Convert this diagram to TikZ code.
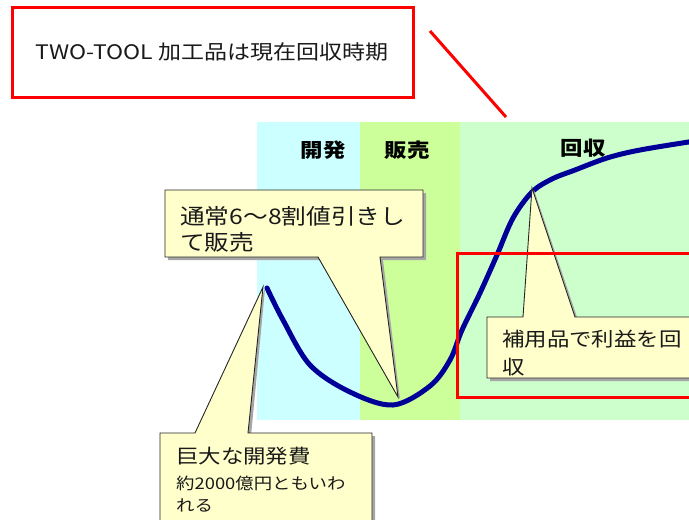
\documentclass[tikz,border=0pt]{standalone}
\usepackage{fontspec}
\newfontfamily\jp[FakeStretch=1.15]{Noto Sans CJK JP}
\definecolor{cyanband}{HTML}{CCFFFF}
\definecolor{greenband}{HTML}{CCFF99}
\definecolor{lgband}{HTML}{CCFFCC}
\definecolor{calloutfill}{HTML}{FFFFCC}
\definecolor{curvecol}{HTML}{000099}
\definecolor{redline}{HTML}{FF0000}
\begin{document}
\begin{tikzpicture}[x=1pt,y=-1pt,
  bandlabel/.style={font=\jp\bfseries\fontsize{19.5}{22}\selectfont, inner sep=0pt},
  curvestyle/.style={draw=curvecol, line width=5pt, line cap=round, line join=round},
  callout/.style={fill=calloutfill, draw=black!85, line width=0.9pt, line join=miter},
  calloutshadow/.style={fill=black!35},
  calltext/.style={font=\jp\fontsize{20}{26}\selectfont, inner sep=0pt, anchor=north west, align=left, text=black!90},
  redbox/.style={draw=redline, line width=3pt},
]
\useasboundingbox (0,0) rectangle (689,520);
\clip (0,0) rectangle (689,520);

% bands
\fill[cyanband] (257,122) rectangle (360,420);
\fill[greenband] (360,122) rectangle (460,420);
\fill[lgband] (460,122) rectangle (689,420);

\node[bandlabel] (lab1) at (323,150) {開発};
\node[bandlabel] (lab2) at (407,150) {販売};
\node[bandlabel] (lab3) at (583,148) {回収};

% curve
\draw[curvestyle] plot[smooth, tension=0.55] coordinates {
 (267,288) (283,320) (310,365) (350,392) (393,405) (430,386) (450,360)
 (462,330) (480,293) (497,255) (513,218) (532,192) (552,179) (575,170)
 (607,158) (640,150) (695,141)};

% callout tips
\coordinate (tip1) at (398,397);
\coordinate (tip2) at (532,188);
\coordinate (tip3) at (263,287);

% callout 1
\fill[calloutshadow] ([shift={(3,3)}]165,190) -- ++(258,0) -- ++(0,67) -- (383,260) -- ([shift={(2,2)}]tip1) -- (321,260) -- (168,260) -- cycle;
\draw[callout] (165,190) -- (423,190) -- (423,257) -- (380,257) -- (tip1) -- (318,257) -- (165,257) -- cycle;
\node[calltext, font=\jp\fontsize{21.5}{26}\selectfont] (t1) at (180,206) {通常6～8割値引きし\\て販売};

% callout 2
\fill[calloutshadow] (490,320) -- (526,320) -- ([shift={(2,2)}]tip2) -- (578,320) -- (700,320) -- (700,381) -- (490,381) -- cycle;
\draw[callout] (487,317) -- (523,317) -- (tip2) -- (575,317) -- (700,317) -- (700,378) -- (487,378) -- cycle;
\node[calltext, font=\jp\fontsize{19.5}{28}\selectfont] (t2) at (502,330) {補用品で利益を回\\収};

% callout 3
\fill[calloutshadow] (163,436) -- (198,436) -- ([shift={(2,2)}]tip3) -- (251,436) -- (375,436) -- (375,530) -- (163,530) -- cycle;
\draw[callout] (160,433) -- (195,433) -- (tip3) -- (248,433) -- (372,433) -- (372,530) -- (160,530) -- cycle;
\node[calltext, font=\jp\fontsize{16}{22}\selectfont] (t3) at (176,447)
 {{\fontsize{19.5}{22}\selectfont 巨大な開発費}\\[4pt]約2000億円ともいわ\\れる};

% red highlight box
\draw[redbox] (457,253) rectangle (705,397);

% title box
\draw[redbox] (12,7) rectangle (413,97);
\node[font=\jp\fontsize{20}{24}\selectfont, text=black!90, inner sep=0pt] (title) at (212,52) {TWO-TOOL 加工品は現在回収時期};
\coordinate (ls) at (430,31);
\coordinate (le) at (506,117);
\draw[redline, line width=3pt] (ls) -- (le);
\end{tikzpicture}
\end{document}
